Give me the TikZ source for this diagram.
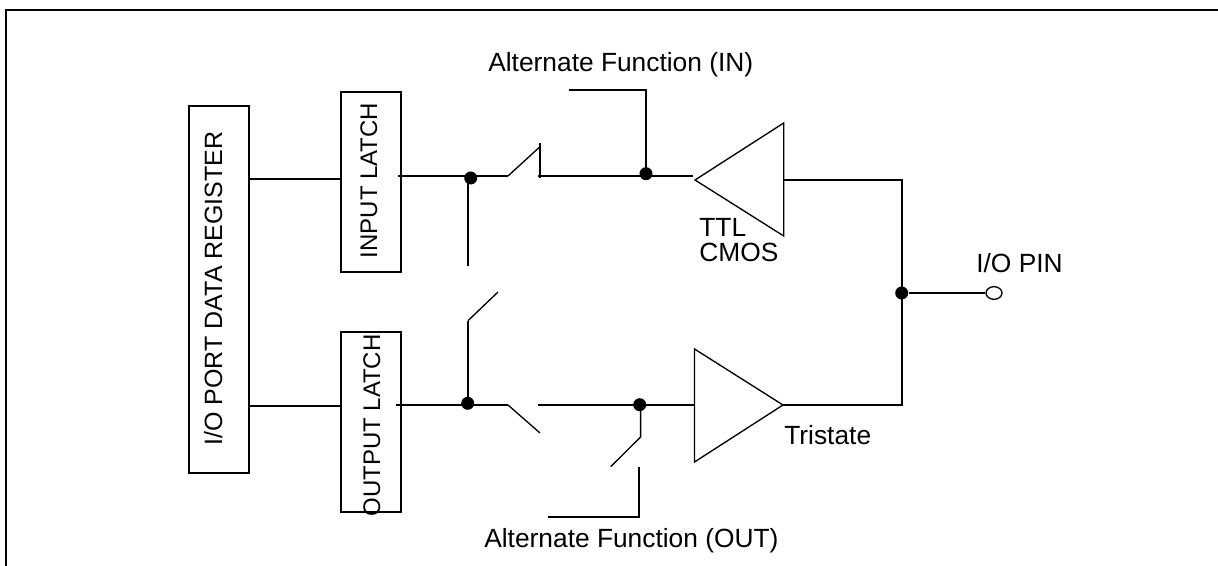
\documentclass[tikz,border=0pt]{standalone}
\usepackage{fontspec}
\setmainfont{Liberation Sans}
\usetikzlibrary{positioning}
\usetikzlibrary{shapes.geometric}
\tikzset{
  latch/.style={draw,line width=1.2pt,minimum width=36pt,inner sep=0pt},
  dot/.style={circle,fill=black,inner sep=0pt,minimum size=7.8pt},
  pin/.style={ellipse,draw,fill=white,line width=0.8pt,inner sep=0pt,minimum width=9.6pt,minimum height=7.6pt},
  txt/.style={inner sep=0pt,font=\fontsize{15.8}{15.8}\selectfont},
  vtxt/.style={inner sep=0pt,rotate=90,anchor=base,font=\fontsize{14.4}{14.4}\selectfont},
  wire/.style={line width=1.2pt},
  thin wire/.style={line width=0.8pt}
}

\begin{document}
\begin{tikzpicture}[x=0.6pt,y=-0.6pt]
  \useasboundingbox (0,0) rectangle (1218,566);

  \coordinate (frameR) at (1218,10);
  \coordinate (frameC) at (6,10);
  \coordinate (frameB) at (6,566);
  \draw [wire] (frameR) -- (frameC) -- (frameB);

  \node (reg) [latch,minimum height=220.2pt] at (219.3,289.2) {};
  \node (regtxt) [vtxt,font=\fontsize{15}{15}\selectfont] at (222,288.5) {I/O PORT DATA REGISTER};

  \node (inl) [latch,minimum height=108pt] at (371,182) {};
  \node (inltxt) [vtxt] at (377,180.5) {INPUT LATCH};

  \node (outl) [latch,minimum height=108pt] at (371,422) {};
  \node (outltxt) [vtxt] at (380,425.5) {OUTPUT LATCH};

  % buffers
  \coordinate (ttlTip) at (695,180);
  \coordinate (ttlTop) at (783.7,123);
  \coordinate (ttlBot) at (783.7,236);
  \coordinate (ttlOut) at (783.7,180);
  \draw [thin wire] (ttlTip) -- (ttlTop) -- (ttlBot) -- cycle;

  \coordinate (triTip) at (783,405);
  \coordinate (triTop) at (694.5,349);
  \coordinate (triBot) at (694.5,462);
  \coordinate (triIn) at (694.5,405);
  \draw [thin wire] (triTip) -- (triTop) -- (triBot) -- cycle;

  \node (ttl) [txt,anchor=base west] at (699,236.7) {TTL};
  \node (cmos) [txt,anchor=base west] at (699,262) {CMOS};
  \node (tristate) [txt,anchor=base west] at (784,445) {Tristate};
  \node (iopin) [txt,anchor=base west] at (976,273) {I/O PIN};
  \node (afin) [txt,anchor=base west] at (488,71.7) {Alternate Function (IN)};
  \node (afout) [txt,anchor=base west] at (484,548) {Alternate Function (OUT)};

  % register to latches
  \draw [wire] (249,179.5) coordinate (regA) -- (341,179.5) coordinate (inlA);
  \draw [wire] (249,405.7) coordinate (regB) -- (341,405.7) coordinate (outlB);

  % input path
  \coordinate (inlOut) at (398,176);
  \coordinate (swA) at (508,176);
  \coordinate (swAend) at (540,146.7);
  \coordinate (swAtop) at (540,143);
  \coordinate (swAlow) at (540,178);
  \coordinate (inMid) at (538,176);
  \coordinate (inEnd) at (692.7,176);
  \coordinate (tapA) at (468,176);
  \coordinate (tapAend) at (468,265.7);
  \coordinate (afinA) at (646,176);
  \coordinate (afinB) at (646,90);
  \coordinate (afinC) at (569,90);
  \draw [wire] (inlOut) -- (swA);
  \draw [thin wire] (swA) -- (swAend);
  \draw [wire] (swAtop) -- (swAlow);
  \draw [wire] (inMid) -- (inEnd);
  \draw [wire] (tapA) -- (tapAend);
  \draw [wire] (afinA) -- (afinB) -- (afinC);

  % output path
  \coordinate (outlOut) at (396,405);
  \coordinate (swB) at (508,405);
  \coordinate (swBend) at (540,433);
  \coordinate (outMid) at (538,405);
  \coordinate (tapB) at (468,405);
  \coordinate (tapBup) at (468,320.7);
  \coordinate (tapBend) at (498,292);
  \coordinate (afoutA) at (640.6,405);
  \coordinate (afoutB) at (640.6,437);
  \coordinate (afoutC) at (610.7,466.7);
  \coordinate (afoutD) at (639,467);
  \coordinate (afoutE) at (639,516.7);
  \coordinate (afoutF) at (548,516.7);
  \draw [wire] (outlOut) -- (swB);
  \draw [thin wire] (swB) -- (swBend);
  \draw [wire] (outMid) -- (triIn);
  \draw [wire] (tapB) -- (tapBup);
  \draw [thin wire] (tapBup) -- (tapBend);
  \draw [thin wire] (afoutA) -- (afoutB) -- (afoutC);
  \draw [wire] (afoutD) -- (afoutE) -- (afoutF);

  % to the pin
  \coordinate (busT) at (901.7,180);
  \coordinate (busB) at (901.7,405);
  \draw [wire] (ttlOut) -- (busT) -- (busB) -- (triTip);

  \node (dotA) [dot] at (470.7,178) {};
  \node (dotB) [dot] at (646,173.7) {};
  \node (dotC) [dot] at (467.7,403.3) {};
  \node (dotD) [dot] at (639.7,404.7) {};
  \node (dotE) [dot] at (901.7,293) {};
  \node (iop) [pin] at (994,293) {};
  \draw [wire] (dotE) -- (iop);

\end{tikzpicture}
\end{document}
